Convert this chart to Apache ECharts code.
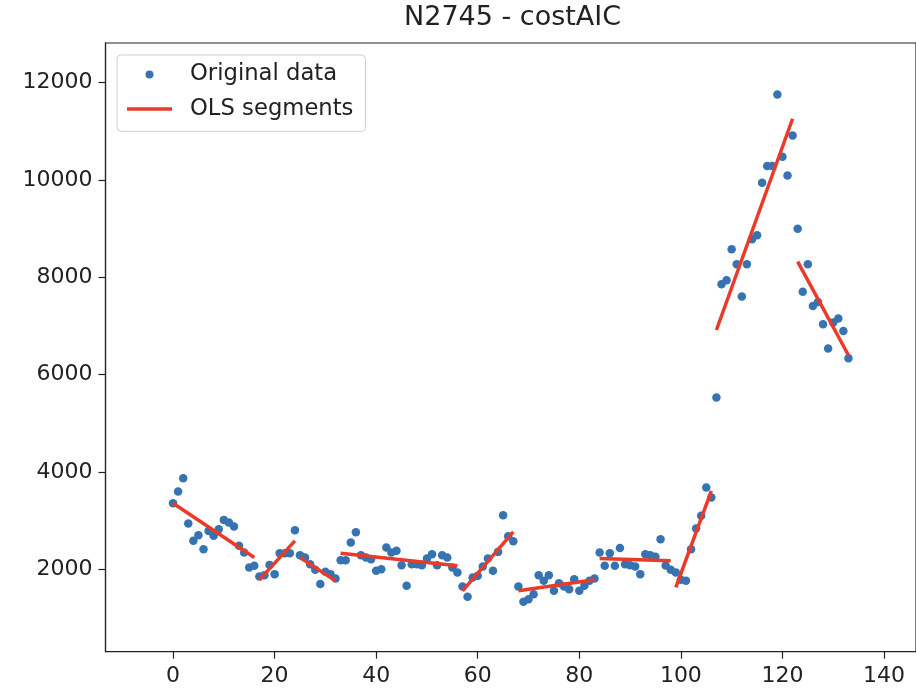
<!doctype html>
<html>
    <head>
        <meta charset="utf-8">
        <title>N2745 - costAIC</title>
        <style>
            html, body { margin: 0; padding: 0; background: #fff; }
            #main { width: 916px; height: 692px; }
        </style>
    </head>
    <body>
        <div id="main"></div>
        <script src="https://cdn.jsdelivr.net/npm/echarts@6/dist/echarts.min.js"></script>
        <script>
            // observations, one per index 0..133
            var yValues = [
                3360, 3600, 3873, 2943, 2586, 2703, 2415, 2791, 2690, 2826,
                3017, 2963, 2881, 2484, 2348, 2040, 2073, 1855, 1882, 2093,
                1903, 2334, 2334, 2334, 2806, 2293, 2245, 2108, 1991, 1700,
                1950, 1903, 1814, 2190, 2190, 2553, 2765, 2293, 2245, 2210,
                1970, 2005, 2450, 2348, 2381, 2087, 1662, 2108, 2108, 2087,
                2225, 2313, 2087, 2293, 2245, 2040, 1937, 1650, 1437, 1835,
                1868, 2060, 2225, 1970, 2360, 3113, 2680, 2580, 1650, 1334,
                1389, 1492, 1882, 1765, 1882, 1560, 1718, 1650, 1595, 1800,
                1560, 1662, 1765, 1814, 2348, 2073, 2334, 2073, 2440, 2108,
                2087, 2060, 1903, 2313, 2293, 2262, 2621, 2080, 1991, 1937,
                1786, 1765, 2416, 2840, 3100, 3682, 3477, 5530, 7854, 7936,
                8573, 8265, 7602, 8265, 8778, 8860, 9941, 10283, 10283, 11754,
                10474, 10091, 10912, 8997, 7704, 8265, 7409, 7491, 7033, 6535,
                7068, 7150, 6896, 6336
            ];

            // fitted OLS segments (start/end x and y)
            var segX0 = [0, 17, 25, 33, 57, 68, 84, 99, 107, 123];
            var segX1 = [16, 24, 32, 56, 67, 83, 98, 106, 122, 133];
            var segY0 = [3360, 1786, 2245, 2334, 1560, 1560, 2225, 1630, 6916, 8320];
            var segY1 = [2245, 2586, 1765, 2073, 2771, 1786, 2176, 3612, 11255, 6397];

            var xTicks = [0, 20, 40, 60, 80, 100, 120, 140];
            var yTicks = [2000, 4000, 6000, 8000, 10000, 12000];

            var chart = echarts.init(document.getElementById('main'));

            var points = yValues.map(function (v, i) { return [i, v]; });

            var series = [{
                name: 'Original data',
                type: 'scatter',
                data: points,
                symbolSize: 8.5,
                itemStyle: { color: '#3674b1', opacity: 1 },
                z: 2
            }];

            for (var i = 0; i < segX0.length; i++) {
                series.push({
                    name: 'OLS segments',
                    type: 'line',
                    data: [[segX0[i], segY0[i]], [segX1[i], segY1[i]]],
                    symbol: 'none',
                    lineStyle: { color: '#ea3a2a', width: 3.5 },
                    itemStyle: { color: '#ea3a2a' },
                    z: 3
                });
            }

            var font = 'DejaVu Sans';
            var plain = function (v) { return String(v); };

            chart.setOption({
                animation: false,
                title: {
                    text: 'N2745 - costAIC',
                    left: 404,
                    top: 4,
                    padding: 0,
                    textStyle: { fontFamily: font, fontSize: 27, fontWeight: 'normal', color: '#222' }
                },
                legend: {
                    data: [
                        { name: 'Original data', icon: 'circle' },
                        { name: 'OLS segments', icon: 'path://M0,0H45V3.5H0Z' }
                    ],
                    orient: 'vertical',
                    left: 117,
                    top: 55,
                    padding: [8, 12, 11, 10],
                    itemWidth: 45,
                    itemHeight: 8,
                    itemGap: 11.4,
                    borderColor: '#cfcfcf',
                    borderWidth: 1,
                    borderRadius: 4,
                    backgroundColor: '#fff',
                    textStyle: { fontFamily: font, fontSize: 22.7, color: '#222', lineHeight: 22, padding: [0, 0, 0, 13] }
                },
                grid: {
                    left: 105.5,
                    right: -5.5,
                    top: 43,
                    bottom: 40.3,
                    show: true,
                    borderColor: '#222',
                    borderWidth: 1.2,
                    backgroundColor: 'transparent'
                },
                xAxis: {
                    type: 'value',
                    min: -13.3,
                    max: 146.3,
                    splitLine: { show: false },
                    axisLine: { onZero: false, lineStyle: { color: '#222', width: 1.2 } },
                    axisTick: { customValues: xTicks, length: 7, lineStyle: { color: '#222', width: 1.2 } },
                    axisLabel: { customValues: xTicks, formatter: plain, margin: 14, fontFamily: font, fontSize: 22, color: '#222' }
                },
                yAxis: {
                    type: 'value',
                    min: 310,
                    max: 12810,
                    splitLine: { show: false },
                    axisLine: { show: true, onZero: false, lineStyle: { color: '#222', width: 1.2 } },
                    axisTick: { show: true, customValues: yTicks, length: 7, lineStyle: { color: '#222', width: 1.2 } },
                    axisLabel: { customValues: yTicks, formatter: plain, margin: 13, fontFamily: font, fontSize: 22, color: '#222' }
                },
                series: series
            });

            window.addEventListener('resize', function () {
                chart.resize();
            });
        </script>
    </body>
</html>
